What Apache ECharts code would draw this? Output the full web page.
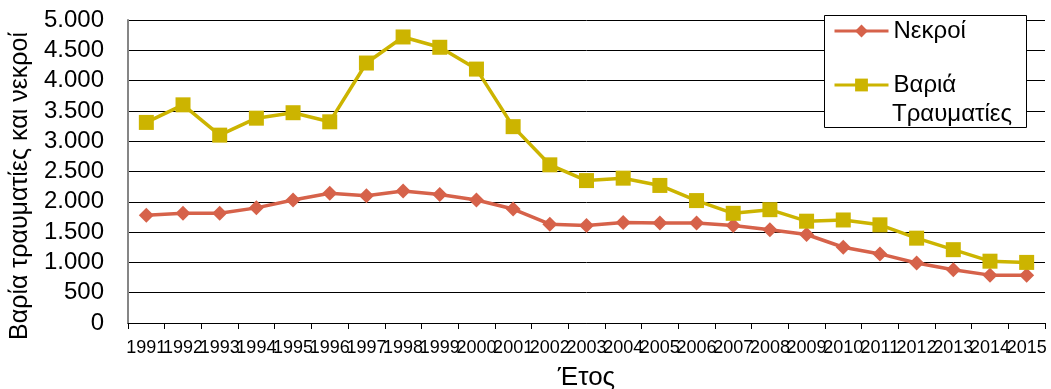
<!DOCTYPE html>
<html><head><meta charset="utf-8">
<script src="https://cdn.jsdelivr.net/npm/echarts@6/dist/echarts.min.js"></script>
<style>html,body{margin:0;padding:0;background:#fff}#c{width:1051px;height:389px}</style>
</head><body><div id="c"></div>
<script>
const years = ['1991','1992','1993','1994','1995','1996','1997','1998','1999','2000','2001','2002','2003','2004','2005','2006','2007','2008','2009','2010','2011','2012','2013','2014','2015'];
const deaths = [1780,1810,1810,1900,2030,2140,2100,2180,2120,2030,1880,1630,1610,1660,1650,1650,1610,1540,1460,1250,1140,990,880,790,790];
const injured = [3310,3600,3100,3380,3470,3320,4290,4720,4550,4190,3240,2610,2350,2390,2270,2020,1810,1870,1680,1700,1620,1400,1210,1020,1000];
const yTicks = [0,500,1000,1500,2000,2500,3000,3500,4000,4500,5000];
const seriesNames = ['Νεκροί', 'Βαριά Τραυματίες'];
const fmt = v => v >= 1000 ? Math.floor(v/1000) + '.' + String(v%1000).padStart(3,'0') : String(v);
const font = '"Liberation Sans", Arial, sans-serif';
const chart = echarts.init(document.getElementById('c'), null, {renderer:'canvas'});
chart.setOption({
  animation:false,
  textStyle:{fontFamily:font},
  grid:{left:128,right:6,top:20,bottom:66,containLabel:false,outerBoundsMode:'none'},
  graphic:[
    {type:'rect', z:3, left:824, top:15, shape:{width:202,height:112},
     style:{fill:'#fff', stroke:'#000', lineWidth:1}},
    {type:'text', z:5, left:892, top:102,
     style:{text:'Τραυματίες', font:'24px "Liberation Sans", Arial, sans-serif', fill:'#000'}}
  ],
  legend:{
    orient:'vertical', left:833, top:18, padding:0, z:6,
    itemWidth:54, itemHeight:16, itemGap:28,
    lineStyle:{width:3},
    textStyle:{fontSize:24,color:'#000',fontFamily:font,lineHeight:26},
    formatter: n => n.split(' ')[0],
    data:seriesNames
  },
  xAxis:{
    type:'category', data:years, boundaryGap:true,
    name:'Έτος', nameLocation:'middle', nameGap:42,
    nameTextStyle:{fontSize:26,color:'#000',fontFamily:font},
    axisLine:{lineStyle:{color:'#000',width:1}},
    axisTick:{show:true,length:6,lineStyle:{color:'#000'}},
    axisLabel:{interval:0,fontSize:18,color:'#000',margin:16,hideOverlap:false,fontFamily:font}
  },
  yAxis:{
    type:'value', min:0, max:5000, interval:500,
    name:'Βαρία τραυματίες και νεκροί', nameLocation:'middle', nameGap:94,
    nameTextStyle:{fontSize:25,color:'#000',fontFamily:font,padding:[0,29,0,0]},
    axisLine:{show:true,lineStyle:{color:'#868686',width:2}},
    axisTick:{show:false},
    splitLine:{lineStyle:{color:'#000',width:1}},
    axisLabel:{fontSize:24,color:'#000',margin:24,fontFamily:font,
      formatter:v => yTicks.includes(v) ? fmt(v) : ''}
  },
  series:[
    {name:seriesNames[0], type:'line', data:deaths, symbol:'diamond', symbolSize:15,
     lineStyle:{color:'#D6624A',width:3.5}, itemStyle:{color:'#D6624A'}},
    {name:seriesNames[1], type:'line', data:injured, symbol:'rect', symbolSize:15,
     lineStyle:{color:'#CCB400',width:3.5}, itemStyle:{color:'#CCB400'}}
  ]
});
</script></body></html>
